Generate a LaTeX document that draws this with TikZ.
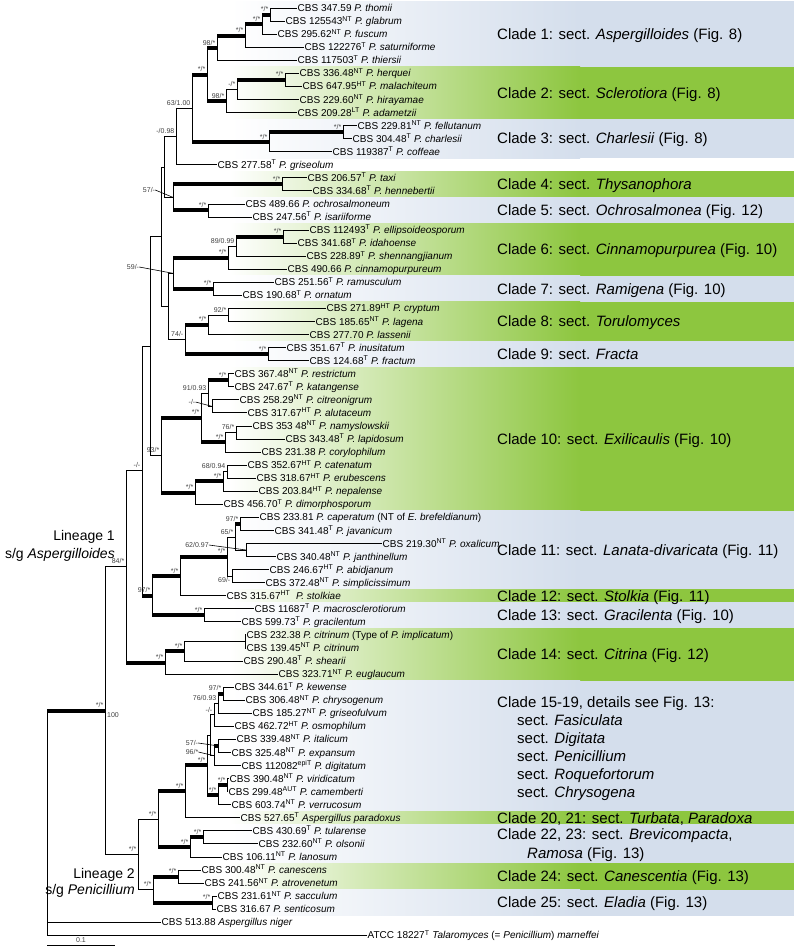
\documentclass[tikz,border=0pt]{standalone}
\usepackage{fontspec}
\setmainfont{Liberation Sans}

\definecolor{bandgreen}{RGB}{141,198,63}
\definecolor{bandblue}{RGB}{212,222,236}

\newcommand{\rowy}[1]{8+13.06*(#1-1)}
\newcommand{\ssc}[1]{\textsuperscript{#1}}
\newcommand{\brn}[2]{\draw[branch] (#1) |- (#2);}
\newcommand{\brk}[2]{\draw[branch] (#1) |- (#2); \draw[thickbranch] (#1 |- #2) -- (#2);}
\newcommand{\band}[3]{%
  \fill[left color=white, right color=#1] (230,{\rowy{#2}-6.53}) rectangle (580,{\rowy{#3}+6.53});
  \fill[#1] (579.5,{\rowy{#2}-6.53}) rectangle (794,{\rowy{#3}+6.53});}

\tikzset{
  branch/.style={line width=0.8pt},
  thickbranch/.style={line width=4pt},
  leader/.style={line width=0.6pt},
  leaf/.style={anchor=west, inner sep=0.5pt, text height=7.2pt, text depth=0pt, font=\fontsize{10}{12}\selectfont},
  sup/.style={anchor=south east, inner sep=0pt, xshift=-1.5pt, yshift=2.6pt, text=black!75, font=\fontsize{7}{8}\selectfont},
  supbelow/.style={anchor=north east, inner sep=0pt, xshift=-1.5pt, yshift=-1.5pt, text=black!75, font=\fontsize{7}{8}\selectfont},
  supfree/.style={inner sep=0pt, text=black!75, font=\fontsize{7}{8}\selectfont},
  clade/.style={anchor=west, inner sep=0pt, text height=10.7pt, text depth=0pt, font=\fontsize{15}{18}\selectfont},
  lineage/.style={anchor=east, inner sep=0pt, text height=10pt, text depth=0pt, font=\fontsize{14}{16}\selectfont},
}

\begin{document}
\begin{tikzpicture}[x=1pt,y=-1pt]
  \useasboundingbox (0,0) rectangle (794,951);

  % coloured clade bands
  \band{bandblue}{1}{5}
  \band{bandgreen}{6}{9}
  \band{bandblue}{10}{12}
  \band{bandgreen}{14}{15}
  \band{bandblue}{16}{17}
  \band{bandgreen}{18}{21}
  \band{bandblue}{22}{23}
  \band{bandgreen}{24}{26}
  \band{bandblue}{27}{28}
  \band{bandgreen}{29}{39}
  \band{bandblue}{40}{45}
  \band{bandgreen}{46}{46}
  \band{bandblue}{47}{48}
  \band{bandgreen}{49}{52}
  \band{bandblue}{53}{62}
  \band{bandgreen}{63}{63}
  \band{bandblue}{64}{66}
  \band{bandgreen}{67}{68}
  \band{bandblue}{69}{70}

  % clade names
  \node[clade] (lab1) at (497,{(\rowy{1}+\rowy{5})/2}) {Clade 1: sect. \textit{Aspergilloides} (Fig. 8)};
  \node[clade] (lab2) at (497,{(\rowy{6}+\rowy{9})/2}) {Clade 2: sect. \textit{Sclerotiora} (Fig. 8)};
  \node[clade] (lab3) at (497,{(\rowy{10}+\rowy{12})/2}) {Clade 3: sect. \textit{Charlesii} (Fig. 8)};
  \node[clade] (lab4) at (497,{(\rowy{14}+\rowy{15})/2}) {Clade 4: sect. \textit{Thysanophora}};
  \node[clade] (lab5) at (497,{(\rowy{16}+\rowy{17})/2}) {Clade 5: sect. \textit{Ochrosalmonea} (Fig. 12)};
  \node[clade] (lab6) at (497,{(\rowy{18}+\rowy{21})/2}) {Clade 6: sect. \textit{Cinnamopurpurea} (Fig. 10)};
  \node[clade] (lab7) at (497,{(\rowy{22}+\rowy{23})/2}) {Clade 7: sect. \textit{Ramigena} (Fig. 10)};
  \node[clade] (lab8) at (497,{(\rowy{24}+\rowy{26})/2}) {Clade 8: sect. \textit{Torulomyces}};
  \node[clade] (lab9) at (497,{(\rowy{27}+\rowy{28})/2}) {Clade 9: sect. \textit{Fracta}};
  \node[clade] (lab10) at (497,{(\rowy{29}+\rowy{39})/2}) {Clade 10: sect. \textit{Exilicaulis} (Fig. 10)};
  \node[clade] (lab11) at (497,{(\rowy{40}+\rowy{45})/2}) {Clade 11: sect. \textit{Lanata-divaricata} (Fig. 11)};
  \node[clade] (lab12) at (497,{\rowy{46}}) {Clade 12: sect. \textit{Stolkia} (Fig. 11)};
  \node[clade] (lab13) at (497,{(\rowy{47}+\rowy{48})/2}) {Clade 13: sect. \textit{Gracilenta} (Fig. 10)};
  \node[clade] (lab14) at (497,{(\rowy{49}+\rowy{52})/2}) {Clade 14: sect. \textit{Citrina} (Fig. 12)};
  \node[clade] (lab15) at (497,702) {Clade 15-19, details see Fig. 13:};
  \node[clade] (lab15a) at (517,720) {sect. \textit{Fasiculata}};
  \node[clade] (lab15b) at (517,738) {sect. \textit{Digitata}};
  \node[clade] (lab15c) at (517,756) {sect. \textit{Penicillium}};
  \node[clade] (lab15d) at (517,774) {sect. \textit{Roquefortorum}};
  \node[clade] (lab15e) at (517,792) {sect. \textit{Chrysogena}};
  \node[clade] (lab20) at (497,{\rowy{63}}) {Clade 20, 21: sect. \textit{Turbata}, \textit{Paradoxa}};
  \node[clade] (lab22) at (497,834) {Clade 22, 23: sect. \textit{Brevicompacta},};
  \node[clade] (lab22a) at (527,853) {\textit{Ramosa} (Fig. 13)};
  \node[clade] (lab24) at (497,{(\rowy{67}+\rowy{68})/2}) {Clade 24: sect. \textit{Canescentia} (Fig. 13)};
  \node[clade] (lab25) at (497,{(\rowy{69}+\rowy{70})/2}) {Clade 25: sect. \textit{Eladia} (Fig. 13)};

  % tips
  \node[leaf] (thomii) at (297,{\rowy{1}}) {CBS 347.59 \textit{P. thomii}};
  \node[leaf] (glabrum) at (285,{\rowy{2}}) {CBS 125543\ssc{NT} \textit{P. glabrum}};
  \node[leaf] (fuscum) at (277,{\rowy{3}}) {CBS 295.62\ssc{NT} \textit{P. fuscum}};
  \node[leaf] (saturniforme) at (304,{\rowy{4}}) {CBS 122276\ssc{T} \textit{P. saturniforme}};
  \node[leaf] (thiersii) at (297,{\rowy{5}}) {CBS 117503\ssc{T} \textit{P. thiersii}};
  \node[leaf] (herquei) at (299,{\rowy{6}}) {CBS 336.48\ssc{NT} \textit{P. herquei}};
  \node[leaf] (malachiteum) at (302,{\rowy{7}}) {CBS 647.95\ssc{HT} \textit{P. malachiteum}};
  \node[leaf] (hirayamae) at (299,{\rowy{8}}) {CBS 229.60\ssc{NT} \textit{P. hirayamae}};
  \node[leaf] (adametzii) at (297,{\rowy{9}}) {CBS 209.28\ssc{LT} \textit{P. adametzii}};
  \node[leaf] (fellutanum) at (357,{\rowy{10}}) {CBS 229.81\ssc{NT} \textit{P. fellutanum}};
  \node[leaf] (charlesii) at (352,{\rowy{11}}) {CBS 304.48\ssc{T} \textit{P. charlesii}};
  \node[leaf] (coffeae) at (332,{\rowy{12}}) {CBS 119387\ssc{T} \textit{P. coffeae}};
  \node[leaf] (griseolum) at (217,{\rowy{13}}) {CBS 277.58\ssc{T} \textit{P. griseolum}};
  \node[leaf] (taxi) at (307,{\rowy{14}}) {CBS 206.57\ssc{T} \textit{P. taxi}};
  \node[leaf] (hennebertii) at (312,{\rowy{15}}) {CBS 334.68\ssc{T} \textit{P. hennebertii}};
  \node[leaf] (ochrosalmoneum) at (245,{\rowy{16}}) {CBS 489.66 \textit{P. ochrosalmoneum}};
  \node[leaf] (isariiforme) at (252,{\rowy{17}}) {CBS 247.56\ssc{T} \textit{P. isariiforme}};
  \node[leaf] (ellipsoideosporum) at (309,{\rowy{18}}) {CBS 112493\ssc{T} \textit{P. ellipsoideosporum}};
  \node[leaf] (idahoense) at (297,{\rowy{19}}) {CBS 341.68\ssc{T} \textit{P. idahoense}};
  \node[leaf] (shennangjianum) at (306,{\rowy{20}}) {CBS 228.89\ssc{T} \textit{P. shennangjianum}};
  \node[leaf] (cinnamopurpureum) at (287,{\rowy{21}}) {CBS 490.66 \textit{P. cinnamopurpureum}};
  \node[leaf] (ramusculum) at (274,{\rowy{22}}) {CBS 251.56\ssc{T} \textit{P. ramusculum}};
  \node[leaf] (ornatum) at (242,{\rowy{23}}) {CBS 190.68\ssc{T} \textit{P. ornatum}};
  \node[leaf] (cryptum) at (326,{\rowy{24}}) {CBS 271.89\ssc{HT} \textit{P. cryptum}};
  \node[leaf] (lagena) at (315,{\rowy{25}}) {CBS 185.65\ssc{NT} \textit{P. lagena}};
  \node[leaf] (lassenii) at (309,{\rowy{26}}) {CBS 277.70 \textit{P. lassenii}};
  \node[leaf] (inusitatum) at (286,{\rowy{27}}) {CBS 351.67\ssc{T} \textit{P. inusitatum}};
  \node[leaf] (fractum) at (309,{\rowy{28}}) {CBS 124.68\ssc{T} \textit{P. fractum}};
  \node[leaf] (restrictum) at (234,{\rowy{29}}) {CBS 367.48\ssc{NT} \textit{P. restrictum}};
  \node[leaf] (katangense) at (234,{\rowy{30}}) {CBS 247.67\ssc{T} \textit{P. katangense}};
  \node[leaf] (citreonigrum) at (239,{\rowy{31}}) {CBS 258.29\ssc{NT} \textit{P. citreonigrum}};
  \node[leaf] (alutaceum) at (247,{\rowy{32}}) {CBS 317.67\ssc{HT} \textit{P. alutaceum}};
  \node[leaf] (namyslowskii) at (252,{\rowy{33}}) {CBS 353 48\ssc{NT} \textit{P. namyslowskii}};
  \node[leaf] (lapidosum) at (285,{\rowy{34}}) {CBS 343.48\ssc{T} \textit{P. lapidosum}};
  \node[leaf] (corylophilum) at (261,{\rowy{35}}) {CBS 231.38 \textit{P. corylophilum}};
  \node[leaf] (catenatum) at (247,{\rowy{36}}) {CBS 352.67\ssc{HT} \textit{P. catenatum}};
  \node[leaf] (erubescens) at (256,{\rowy{37}}) {CBS 318.67\ssc{HT} \textit{P. erubescens}};
  \node[leaf] (nepalense) at (258,{\rowy{38}}) {CBS 203.84\ssc{HT} \textit{P. nepalense}};
  \node[leaf] (dimorphosporum) at (223,{\rowy{39}}) {CBS 456.70\ssc{T} \textit{P. dimorphosporum}};
  \node[leaf] (caperatum) at (259,{\rowy{40}}) {CBS 233.81 \textit{P. caperatum} (NT of \textit{E. brefeldianum})};
  \node[leaf] (javanicum) at (274,{\rowy{41}}) {CBS 341.48\ssc{T} \textit{P. javanicum}};
  \node[leaf] (oxalicum) at (382,{\rowy{42}}) {CBS 219.30\ssc{NT} \textit{P. oxalicum}};
  \node[leaf] (janthinellum) at (276,{\rowy{43}}) {CBS 340.48\ssc{NT} \textit{P. janthinellum}};
  \node[leaf] (abidjanum) at (269,{\rowy{44}}) {CBS 246.67\ssc{HT} \textit{P. abidjanum}};
  \node[leaf] (simplicissimum) at (265,{\rowy{45}}) {CBS 372.48\ssc{NT} \textit{P. simplicissimum}};
  \node[leaf] (stolkiae) at (226,{\rowy{46}}) {CBS 315.67\ssc{HT}\ \ \textit{P. stolkiae}};
  \node[leaf] (macrosclerotiorum) at (254,{\rowy{47}}) {CBS 11687\ssc{T} \textit{P. macrosclerotiorum}};
  \node[leaf] (gracilentum) at (241,{\rowy{48}}) {CBS 599.73\ssc{T} \textit{P. gracilentum}};
  \node[leaf] (citrinumA) at (246,{\rowy{49}}) {CBS 232.38 \textit{P. citrinum} (Type of \textit{P. implicatum})};
  \node[leaf] (citrinum) at (246,{\rowy{50}}) {CBS 139.45\ssc{NT} \textit{P. citrinum}};
  \node[leaf] (shearii) at (243,{\rowy{51}}) {CBS 290.48\ssc{T} \textit{P. shearii}};
  \node[leaf] (euglaucum) at (278,{\rowy{52}}) {CBS 323.71\ssc{NT} \textit{P. euglaucum}};
  \node[leaf] (kewense) at (234,{\rowy{53}}) {CBS 344.61\ssc{T} \textit{P. kewense}};
  \node[leaf] (chrysogenum) at (245,{\rowy{54}}) {CBS 306.48\ssc{NT} \textit{P. chrysogenum}};
  \node[leaf] (griseofulvum) at (252,{\rowy{55}}) {CBS 185.27\ssc{NT} \textit{P. griseofulvum}};
  \node[leaf] (osmophilum) at (234,{\rowy{56}}) {CBS 462.72\ssc{HT} \textit{P. osmophilum}};
  \node[leaf] (italicum) at (236,{\rowy{57}}) {CBS 339.48\ssc{NT} \textit{P. italicum}};
  \node[leaf] (expansum) at (231,{\rowy{58}}) {CBS 325.48\ssc{NT} \textit{P. expansum}};
  \node[leaf] (digitatum) at (241,{\rowy{59}}) {CBS 112082\ssc{epiT} \textit{P. digitatum}};
  \node[leaf] (viridicatum) at (229,{\rowy{60}}) {CBS 390.48\ssc{NT} \textit{P. viridicatum}};
  \node[leaf] (camemberti) at (228,{\rowy{61}}) {CBS 299.48\ssc{AUT} \textit{P. camemberti}};
  \node[leaf] (verrucosum) at (231,{\rowy{62}}) {CBS 603.74\ssc{NT} \textit{P. verrucosum}};
  \node[leaf] (paradoxus) at (240,{\rowy{63}}) {CBS 527.65\ssc{T} \textit{Aspergillus paradoxus}};
  \node[leaf] (tularense) at (252,{\rowy{64}}) {CBS 430.69\ssc{T} \textit{P. tularense}};
  \node[leaf] (olsonii) at (258,{\rowy{65}}) {CBS 232.60\ssc{NT} \textit{P. olsonii}};
  \node[leaf] (lanosum) at (222,{\rowy{66}}) {CBS 106.11\ssc{NT} \textit{P. lanosum}};
  \node[leaf] (canescens) at (201,{\rowy{67}}) {CBS 300.48\ssc{NT} \textit{P. canescens}};
  \node[leaf] (atrovenetum) at (204,{\rowy{68}}) {CBS 241.56\ssc{NT} \textit{P. atrovenetum}};
  \node[leaf] (sacculum) at (217,{\rowy{69}}) {CBS 231.61\ssc{NT} \textit{P. sacculum}};
  \node[leaf] (senticosum) at (216,{\rowy{70}}) {CBS 316.67 \textit{P. senticosum}};
  \node[leaf] (niger) at (161,{\rowy{71}}) {CBS 513.88 \textit{Aspergillus niger}};
  \node[leaf] (marneffei) at (367,{\rowy{72}}) {ATCC 18227\ssc{T} \textit{Talaromyces} (= \textit{Penicillium}) \textit{marneffei}};

  % internal nodes, lineage 1
  \coordinate (tg) at (270,14.53);
  \coordinate (tgf) at (262,24.33);
  \coordinate (tgfs) at (245,35.76);
  \coordinate (cA) at (217,48.0);
  \coordinate (hm) at (285,79.83);
  \coordinate (hmh) at (237,89.63);
  \coordinate (cB) at (226,101.06);
  \coordinate (cAB) at (207,74.53);
  \coordinate (fc) at (343,132.07);
  \coordinate (cC) at (269,141.87);
  \coordinate (cABC) at (192,108.2);
  \coordinate (nX) at (176,136.46);
  \coordinate (cD) at (282,184.31);
  \coordinate (cE) at (208,210.43);
  \coordinate (n45) at (173,197.37);
  \coordinate (nY) at (164,166.9);
  \coordinate (ei) at (283,236.55);
  \coordinate (eis) at (236,246.35);
  \coordinate (cF) at (228,257.78);
  \coordinate (cG) at (213,288.79);
  \coordinate (n67) at (173,273.29);
  \coordinate (cl) at (228,314.91);
  \coordinate (cH) at (208,324.71);
  \coordinate (cI) at (268,354.09);
  \coordinate (n89) at (185,339.4);
  \coordinate (n6789) at (168,306.35);
  \coordinate (nZ) at (161,236.6);
  \coordinate (rk) at (228,380.21);
  \coordinate (ca) at (212,406.33);
  \coordinate (rkca) at (208,393.27);
  \coordinate (nl) at (236,432.45);
  \coordinate (nlc) at (225,442.25);
  \coordinate (cJa) at (201,417.76);
  \coordinate (ce) at (227,471.63);
  \coordinate (cen) at (223,481.43);
  \coordinate (cend) at (195,492.86);
  \coordinate (cJ) at (161,455.31);
  \coordinate (nW) at (150,345.96);
  \coordinate (cj) at (240,523.87);
  \coordinate (oj) at (246,549.99);
  \coordinate (cjoj) at (235,536.93);
  \coordinate (abs) at (232,576.11);
  \coordinate (cK) at (227,556.52);
  \coordinate (n1112) at (180,576.11);
  \coordinate (cM) at (204,615.29);
  \coordinate (n1113) at (152,595.7);
  \coordinate (nV) at (142,470.83);
  \coordinate (cc) at (245,641.41);
  \coordinate (ccs) at (184,651.2);
  \coordinate (cN) at (165,662.63);
  \coordinate (L1) at (126,566.73);
  % internal nodes, lineage 2
  \coordinate (kc) at (223,693.65);
  \coordinate (nF) at (218,703.45);
  \coordinate (nG) at (214,714.88);
  \coordinate (ie) at (218,745.89);
  \coordinate (nH) at (214,755.69);
  \coordinate (nC) at (210,735.29);
  \coordinate (vc) at (227,785.07);
  \coordinate (nD) at (218,794.87);
  \coordinate (nB) at (207,765.08);
  \coordinate (nA) at (185,791.4);
  \coordinate (tuol) at (203,837.31);
  \coordinate (tuoll) at (190,847.1);
  \coordinate (nU) at (158,819.25);
  \coordinate (ca2) at (178,876.49);
  \coordinate (ss) at (212,902.61);
  \coordinate (cO) at (153,889.55);
  \coordinate (L2) at (138,854.4);
  \coordinate (nP) at (105,710.57);
  \coordinate (root) at (47,710.57);

  % branches
  \brn{tg}{thomii.west} \brn{tg}{glabrum.west}
  \brk{tgf}{tg} \brn{tgf}{fuscum.west}
  \brk{tgfs}{tgf} \brn{tgfs}{saturniforme.west}
  \brk{cA}{tgfs} \brn{cA}{thiersii.west}
  \brn{hm}{herquei.west} \brn{hm}{malachiteum.west}
  \brk{hmh}{hm} \brn{hmh}{hirayamae.west}
  \brn{cB}{hmh} \brn{cB}{adametzii.west}
  \brk{cAB}{cA} \brk{cAB}{cB}
  \brn{fc}{fellutanum.west} \brn{fc}{charlesii.west}
  \brk{cC}{fc} \brn{cC}{coffeae.west}
  \brk{cABC}{cAB} \brk{cABC}{cC}
  \brn{nX}{cABC} \brn{nX}{griseolum.west}
  \brn{cD}{taxi.west} \brn{cD}{hennebertii.west}
  \brn{cE}{ochrosalmoneum.west} \brn{cE}{isariiforme.west}
  \brk{n45}{cD} \brk{n45}{cE}
  \brn{nY}{nX} \brn{nY}{n45}
  \brn{ei}{ellipsoideosporum.west} \brn{ei}{idahoense.west}
  \brk{eis}{ei} \brn{eis}{shennangjianum.west}
  \brn{cF}{eis} \brn{cF}{cinnamopurpureum.west}
  \brn{cG}{ramusculum.west} \brn{cG}{ornatum.west}
  \brk{n67}{cF} \brk{n67}{cG}
  \brn{cl}{cryptum.west} \brn{cl}{lagena.west}
  \brn{cH}{cl} \brn{cH}{lassenii.west}
  \brn{cI}{inusitatum.west} \brn{cI}{fractum.west}
  \brk{n89}{cH} \brk{n89}{cI}
  \brn{n6789}{n67} \brn{n6789}{n89}
  \brn{nZ}{nY} \brn{nZ}{n6789}
  \brn{rk}{restrictum.west} \brn{rk}{katangense.west}
  \brn{ca}{citreonigrum.west} \brn{ca}{alutaceum.west}
  \brk{rkca}{rk} \brn{rkca}{ca}
  \brn{nl}{namyslowskii.west} \brn{nl}{lapidosum.west}
  \brn{nlc}{nl} \brn{nlc}{corylophilum.west}
  \brn{cJa}{rkca} \brk{cJa}{nlc}
  \brn{ce}{catenatum.west} \brn{ce}{erubescens.west}
  \brn{cen}{ce} \brn{cen}{nepalense.west}
  \brk{cend}{cen} \brn{cend}{dimorphosporum.west}
  \brk{cJ}{cJa} \brk{cJ}{cend}
  \brn{nW}{nZ} \brn{nW}{cJ}
  \brn{cj}{caperatum.west} \brn{cj}{javanicum.west}
  \brn{oj}{oxalicum.west} \brn{oj}{janthinellum.west}
  \brk{cjoj}{cj} \brn{cjoj}{oj}
  \brn{abs}{abidjanum.west} \brn{abs}{simplicissimum.west}
  \brn{cK}{cjoj} \brn{cK}{abs}
  \brk{n1112}{cK} \brn{n1112}{stolkiae.west}
  \brn{cM}{macrosclerotiorum.west} \brn{cM}{gracilentum.west}
  \brk{n1113}{n1112} \brk{n1113}{cM}
  \brn{nV}{nW} \brk{nV}{n1113}
  \brn{cc}{citrinumA.west} \brn{cc}{citrinum.west}
  \brn{ccs}{cc} \brn{ccs}{shearii.west}
  \brk{cN}{ccs} \brn{cN}{euglaucum.west}
  \brn{L1}{nV} \brk{L1}{cN}
  \brn{kc}{kewense.west} \brn{kc}{chrysogenum.west}
  \brk{nF}{kc} \brn{nF}{griseofulvum.west}
  \brn{nG}{nF} \brn{nG}{osmophilum.west}
  \brn{ie}{italicum.west} \brn{ie}{expansum.west}
  \brk{nH}{ie} \brn{nH}{digitatum.west}
  \brn{nC}{nG} \brn{nC}{nH}
  \brn{vc}{viridicatum.west} \brn{vc}{camemberti.west}
  \brk{nD}{vc} \brn{nD}{verrucosum.west}
  \brn{nB}{nC} \brk{nB}{nD}
  \brk{nA}{nB} \brn{nA}{paradoxus.west}
  \brn{tuol}{tularense.west} \brn{tuol}{olsonii.west}
  \brk{tuoll}{tuol} \brn{tuoll}{lanosum.west}
  \brk{nU}{nA} \brk{nU}{tuoll}
  \brn{ca2}{canescens.west} \brn{ca2}{atrovenetum.west}
  \brn{ss}{sacculum.west} \brn{ss}{senticosum.west}
  \brk{cO}{ca2} \brk{cO}{ss}
  \brn{L2}{nU} \brn{L2}{cO}
  \brn{nP}{L1} \brn{nP}{L2}
  \brk{root}{nP} \brn{root}{niger.west} \brn{root}{marneffei.west}

  % support values
  \node[sup] (stg) at (tg) {*/*};
  \node[sup] (stgf) at (tgf) {*/*};
  \node[sup] (stgfs) at (tgfs) {*/*};
  \node[sup] (scA) at (cA) {98/*};
  \node[sup] (shm) at (hm) {*/*};
  \node[sup] (shmh) at (hmh) {-/*};
  \node[sup] (scB) at (cB) {98/*};
  \node[sup] (scAB) at (cAB) {*/*};
  \node[sup] (sfc) at (fc) {*/*};
  \node[sup] (scC) at (cC) {*/*};
  \node[sup] (scABC) at (cABC) {63/1.00};
  \node[sup] (snX) at (nX) {-/0.98};
  \node[sup] (scD) at (cD) {*/*};
  \node[sup] (scE) at (cE) {*/*};
  \node[supfree] (sn45) at (149,190) {57/-};
  \draw[leader] (sn45.east) -- (n45);
  \node[sup] (sei) at (ei) {*/*};
  \node[sup] (seis) at (eis) {89/0.99};
  \node[sup] (scF) at (cF) {*/*};
  \node[sup] (scG) at (cG) {*/*};
  \node[supfree] (sn67) at (133,267) {59/-};
  \draw[leader] (sn67.east) -- (n67);
  \node[sup] (scl) at (cl) {92/*};
  \node[sup] (scH) at (cH) {*/*};
  \node[sup] (scI) at (cI) {*/*};
  \node[sup] (sn89) at (n89) {74/-};
  \node[sup] (srk) at (rk) {*/*};
  \node[supfree] (sca) at (192,402) {-/-};
  \draw[leader] (sca.east) -- (ca);
  \node[sup] (srkca) at (rkca) {91/0.93};
  \node[sup] (snl) at (nl) {76/*};
  \node[sup] (snlc) at (nlc) {*/*};
  \node[sup] (scJa) at (cJa) {*/*};
  \node[sup] (sce) at (ce) {68/0.94};
  \node[sup] (scen) at (cen) {*/*};
  \node[sup] (scend) at (cend) {*/*};
  \node[sup] (scJ) at (cJ) {93/*};
  \node[sup] (scj) at (cj) {97/*};
  \node[supfree] (soj) at (197,545) {62/0.97};
  \draw[leader] (soj.east) -- (oj);
  \node[sup] (scjoj) at (cjoj) {65/*};
  \node[supbelow] (sabs) at (abs) {69/-};
  \node[sup] (scK) at (cK) {*/*};
  \node[sup] (sn1112) at (n1112) {*/*};
  \node[sup] (scM) at (cM) {*/*};
  \node[sup] (sn1113) at (n1113) {97/*};
  \node[sup] (snV) at (nV) {-/-};
  \node[sup] (sccs) at (ccs) {*/*};
  \node[sup] (scN) at (cN) {*/*};
  \node[sup] (sL1) at (L1) {84/*};
  \node[sup] (skc) at (kc) {97/*};
  \node[sup] (snF) at (nF) {76/0.93};
  \node[sup] (snG) at (nG) {-/-};
  \node[supfree] (sie) at (192,743) {57/-};
  \draw[leader] (sie.east) -- (ie);
  \node[supfree] (snH) at (192,752) {96/*};
  \draw[leader] (snH.east) -- (nH);
  \node[sup] (svc) at (vc) {*/*};
  \node[sup] (snD) at (nD) {*/*};
  \node[sup] (snB) at (nB) {*/*};
  \node[sup] (snA) at (nA) {*/*};
  \node[sup] (stuol) at (tuol) {*/*};
  \node[sup] (stuoll) at (tuoll) {*/*};
  \node[sup] (snU) at (nU) {*/*};
  \node[sup] (sca2) at (ca2) {*/*};
  \node[sup] (sss) at (ss) {*/*};
  \node[sup] (scO) at (cO) {*/*};
  \node[sup] (sL2) at (L2) {*/*};
  \node[sup] (snP) at (nP) {*/*};
  \node[supfree, anchor=west] (snP2) at ([xshift=2pt,yshift=-4.5pt]nP) {100};

  % lineages
  \node[lineage] (lin1) at (115,535) {Lineage 1};
  \node[lineage] (lin1sg) at (115,553) {s/g \textit{Aspergilloides}};
  \node[lineage] (lin2) at (135,873) {Lineage 2};
  \node[lineage] (lin2sg) at (135,889) {s/g \textit{Penicillium}};

  % scale bar
  \coordinate (sbl) at (47,945);
  \coordinate (sbr) at (115,945);
  \draw[branch] (sbl) -- (sbr);
  \node[supfree, anchor=south] (sbt) at (81,942.5) {0.1};
\end{tikzpicture}
\end{document}
